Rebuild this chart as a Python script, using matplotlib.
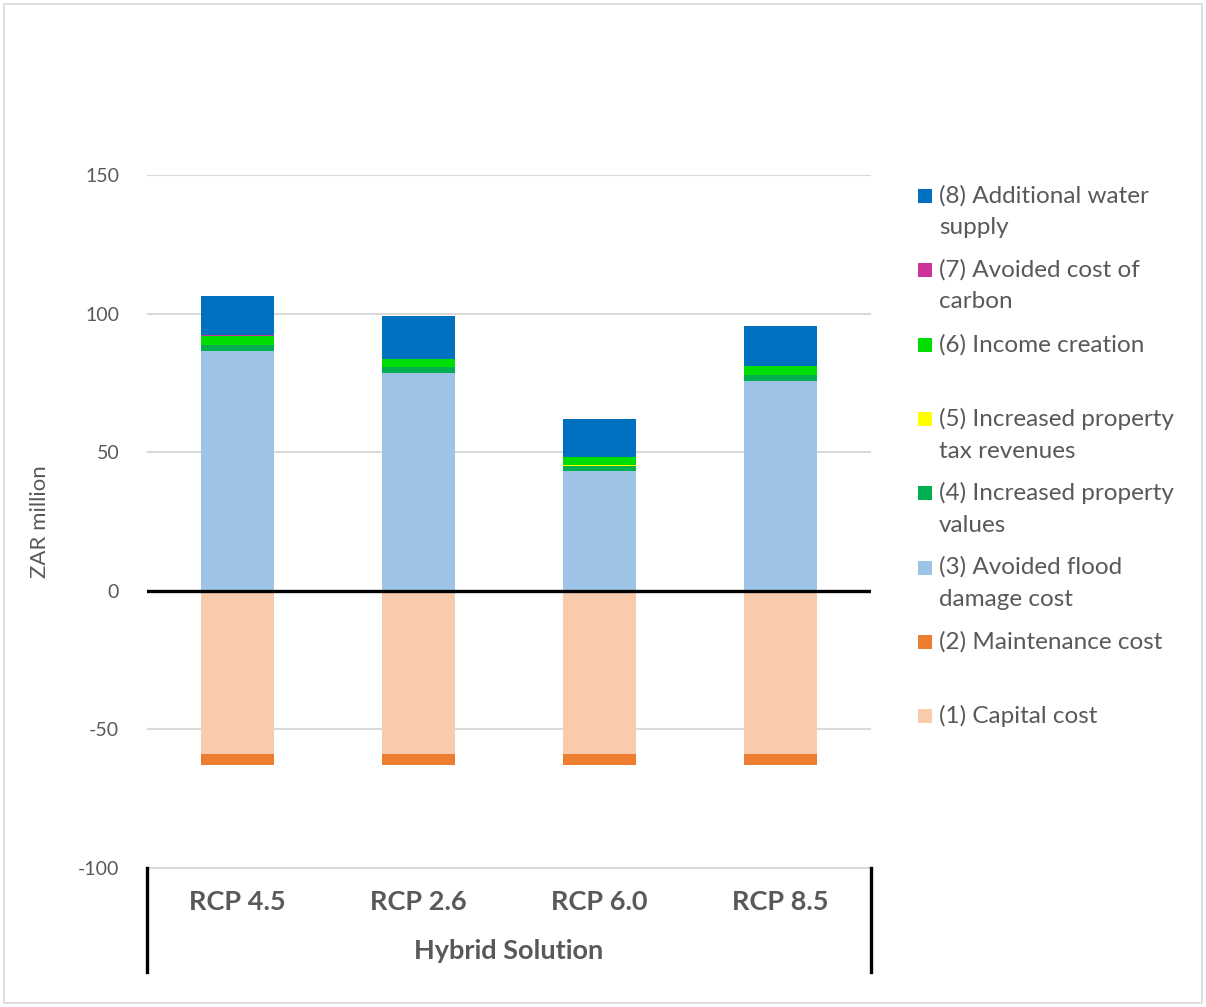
import matplotlib.pyplot as plt
from matplotlib.patches import Rectangle
from matplotlib.lines import Line2D
import numpy as np

plt.rcParams['font.family'] = ['Lato', 'DejaVu Sans']

scenarios = ["RCP 4.5", "RCP 2.6", "RCP 6.0", "RCP 8.5"]
group_label = "Hybrid Solution"

# ZAR million per scenario, stacked bottom-up
capital_cost = [-58.8, -58.8, -58.8, -58.8]
maintenance_cost = [-4.0, -4.0, -4.0, -4.0]
avoided_flood = [86.5, 78.4, 43.1, 75.8]
property_values = [2.0, 2.3, 2.1, 2.1]
property_tax = [0.1, 0.1, 0.1, 0.1]
income_creation = [3.2, 2.9, 3.0, 3.0]
avoided_carbon = [0.3, 0.1, 0.1, 0.1]
water_supply = [14.3, 15.2, 13.6, 14.5]

pos_series = [
    ("(3) Avoided flood\ndamage cost", avoided_flood, "#9DC3E6"),
    ("(4) Increased property\nvalues", property_values, "#00B050"),
    ("(5) Increased property\ntax revenues", property_tax, "#FFFF00"),
    ("(6) Income creation", income_creation, "#00DD00"),
    ("(7) Avoided cost of\ncarbon", avoided_carbon, "#CC3399"),
    ("(8) Additional water\nsupply", water_supply, "#0070C0"),
]
neg_series = [
    ("(1) Capital cost", capital_cost, "#F8CBAD"),
    ("(2) Maintenance cost", maintenance_cost, "#ED7D31"),
]

text_gray = "#595959"
W, H = 1206, 1007
fig = plt.figure(figsize=(W / 100, H / 100), dpi=100)
ax = fig.add_axes([147 / W, 1 - 868 / H, 724 / W, 693 / H])

x = np.arange(len(scenarios))
bw = 0.4

bottom = np.zeros(len(scenarios))
for label, vals, color in pos_series:
    ax.bar(x, vals, bw, bottom=bottom, color=color, zorder=2)
    bottom += np.array(vals)

bottom = np.zeros(len(scenarios))
for label, vals, color in neg_series:
    ax.bar(x, vals, bw, bottom=bottom, color=color, zorder=2)
    bottom += np.array(vals)

ax.set_xlim(-0.5, len(scenarios) - 0.5)
ax.set_ylim(-100, 150)
ax.set_yticks([-100, -50, 0, 50, 100, 150])
ax.set_yticklabels(["-100", "-50", "0", "50", "100", "150"])
ax.yaxis.grid(True, color="#D9D9D9", lw=1.5, zorder=0)
ax.axhline(0, color="black", lw=2.4, zorder=3)
for s in ["top", "right", "left"]:
    ax.spines[s].set_visible(False)
ax.spines["bottom"].set_color("#D9D9D9")
ax.spines["bottom"].set_linewidth(1.5)
ax.tick_params(axis="y", length=0, labelsize=14, labelcolor=text_gray, pad=20)
ax.tick_params(axis="x", length=0, labelsize=19.5, labelcolor=text_gray, pad=16)
ax.set_xticks(x)
ax.set_xticklabels(scenarios, fontweight="bold")
ax.set_ylabel("ZAR million", fontsize=16, color=text_gray, labelpad=20)

# multi-level category axis
fig.text((147 + 871) / 2 / W, 1 - 951 / H, group_label, fontsize=19.5,
         fontweight="bold", color=text_gray, ha="center", va="center")
for px in (147, 871):
    fig.add_artist(Line2D([px / W, px / W], [1 - 868 / H, 1 - 972 / H],
                          color="black", lw=2.4, transform=fig.transFigure))

# legend, top entry first
entries = list(reversed(pos_series)) + list(reversed(neg_series))
y0 = 196
for i, (label, vals, color) in enumerate(entries):
    yc = y0 + i * 74.3
    fig.add_artist(Rectangle((918 / W, 1 - (yc + 7) / H), 14 / W, 14 / H,
                             facecolor=color, edgecolor="none",
                             transform=fig.transFigure))
    fig.text(939 / W, 1 - (yc - 11) / H, label, fontsize=17.5, color=text_gray,
             ha="left", va="top", linespacing=1.62)

# chart area border
fig.add_artist(Rectangle((4 / W, 4 / H), (W - 8) / W, (H - 8) / H,
                         facecolor="none", edgecolor="#D9D9D9", lw=1.2,
                         transform=fig.transFigure))

fig.savefig("out.png", dpi=100)
